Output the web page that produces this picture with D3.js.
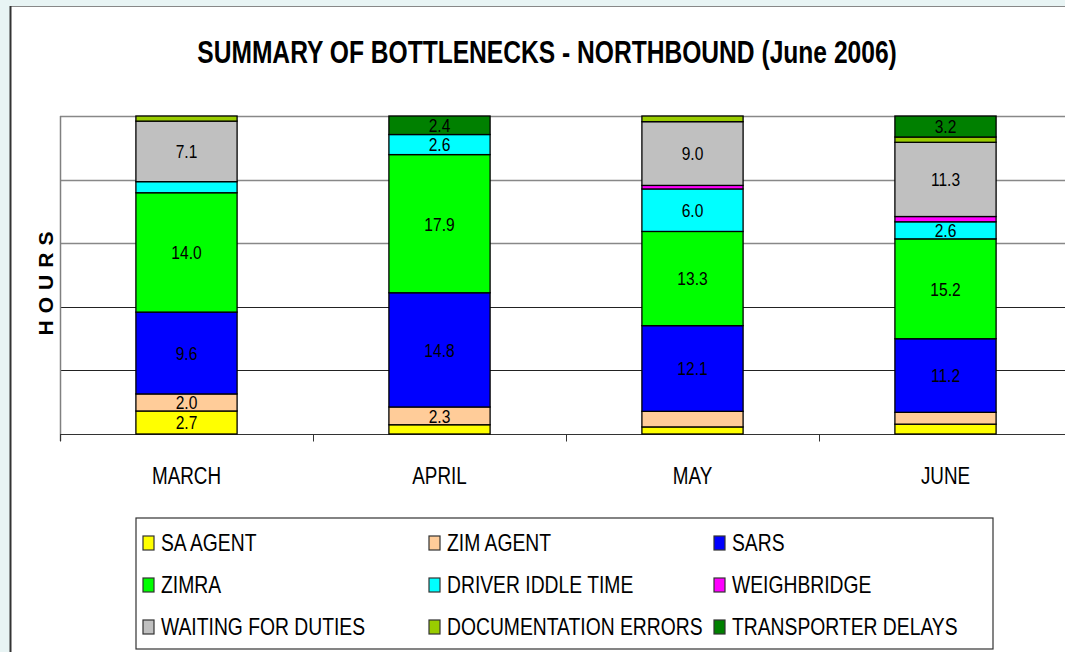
<!DOCTYPE html>
<html>
<head>
<meta charset="utf-8">
<script src="https://cdn.jsdelivr.net/npm/d3@7"></script>
<style>
  html, body { margin: 0; padding: 0; background: #e8f4f4; }
  svg { display: block; }
  text { font-family: "Liberation Sans", Arial, sans-serif; }
</style>
</head>
<body>
<svg id="chart" width="1065" height="652"></svg>
<script>
// ---- data ----
const months = ["MARCH", "APRIL", "MAY", "JUNE"];
const seriesNames = ["SA AGENT", "ZIM AGENT", "SARS", "ZIMRA", "DRIVER IDDLE TIME",
  "WEIGHBRIDGE", "WAITING FOR DUTIES", "DOCUMENTATION ERRORS", "TRANSPORTER DELAYS"];
const saAgent        = [2.7, 1.2, 1.0, 1.5];
const zimAgent       = [2.0, 2.3, 2.2, 1.8];
const sars           = [9.6, 14.8, 12.1, 11.2];
const zimra          = [14.0, 17.9, 13.3, 15.2];
const driverIdle     = [1.3, 2.6, 6.0, 2.6];
const weighbridge    = [0.0, 0.0, 0.5, 0.8];
const waitingDuties  = [7.1, 0.0, 9.0, 11.3];
const docErrors      = [0.6, 0.0, 0.8, 0.8];
const transporter    = [0.0, 2.4, 0.0, 3.2];
const yTicks = [0, 0.2, 0.4, 0.6, 0.8, 1.0];
const hiddenLabels = [["MAY", "ZIM AGENT"]];
const colors = ["#ffff00", "#ffcc99", "#0000ff", "#00ff00", "#00ffff",
  "#ff00ff", "#c0c0c0", "#99cc00", "#008000"];

const seriesValues = [saAgent, zimAgent, sars, zimra, driverIdle, weighbridge,
  waitingDuties, docErrors, transporter];

const table = months.map((m, i) => {
  const row = { month: m };
  seriesNames.forEach((s, j) => row[s] = seriesValues[j][i]);
  return row;
});

const svg = d3.select("#chart");
const NARROW = 0.84;

// narrow text helper: horizontally condensed text
function ntext(parent, x, y, str, size, anchor, opts = {}) {
  const g = parent.append("g").attr("transform", `translate(${x},${y}) scale(${opts.sx || NARROW},1)`);
  const t = g.append("text").attr("x", 0).attr("y", 0)
    .attr("text-anchor", anchor || "start").attr("font-size", size)
    .attr("dy", opts.dy || null)
    .attr("font-weight", opts.bold ? "bold" : null)
    .attr("fill", "#000").text(str);
  return { g, t };
}

// panel
svg.append("rect").attr("x", 10).attr("y", 6).attr("width", 1080).attr("height", 680)
  .attr("fill", "#ffffff");
svg.append("line").attr("x1", 10).attr("x2", 1080).attr("y1", 6.5).attr("y2", 6.5)
  .attr("stroke", "#888").attr("stroke-width", 1);
svg.append("line").attr("x1", 10.5).attr("x2", 10.5).attr("y1", 6).attr("y2", 660)
  .attr("stroke", "#333").attr("stroke-width", 2);

// title (condensed to match width)
{
  const { g, t } = ntext(svg, 547, 63, "SUMMARY OF BOTTLENECKS - NORTHBOUND (June 2006)", 31, "middle", { bold: true, sx: 1 });
  const w = t.node().getComputedTextLength();
  g.attr("transform", `translate(547,63) scale(${700 / w},1)`);
}

const plot = { left: 60, top: 116, right: 1072, bottom: 434 };

const x = d3.scaleBand().domain(months).range([plot.left, plot.right])
  .paddingInner(0.6).paddingOuter(0.3);
const xAxisScale = d3.scaleBand().domain(months).range([plot.left, plot.right]);
const y = d3.scaleLinear().domain([0, 1]).range([plot.bottom, plot.top]);

// gridlines
const grid = svg.append("g");
yTicks.slice(1).forEach(t => {
  grid.append("line").attr("x1", plot.left).attr("x2", 1065)
    .attr("y1", Math.round(y(t)) + 0.5).attr("y2", Math.round(y(t)) + 0.5)
    .attr("stroke", t >= 0.6 ? "#888888" : "#222222").attr("stroke-width", t >= 0.6 ? 1.6 : 1);
});

// y axis line
svg.append("line").attr("x1", plot.left + 0.5).attr("x2", plot.left + 0.5)
  .attr("y1", plot.top).attr("y2", plot.bottom + 7).attr("stroke", "#808080").attr("stroke-width", 1.5);

// x axis
const xAxis = svg.append("g").attr("transform", `translate(0,${plot.bottom + 0.5})`);
xAxis.append("line").attr("x1", plot.left).attr("x2", 1065).attr("y1", 0).attr("y2", 0)
  .attr("stroke", "#333").attr("stroke-width", 1.2);
months.forEach(m => {
  xAxis.append("line").attr("x1", Math.round(xAxisScale(m)) + 0.5).attr("x2", Math.round(xAxisScale(m)) + 0.5)
    .attr("y1", 0).attr("y2", 7).attr("stroke", "#333");
  ntext(xAxis, xAxisScale(m) + xAxisScale.bandwidth() / 2, 49, m, 23, "middle", { sx: 0.82 });
});

// stacks (100% stacked)
const stack = d3.stack().keys(seriesNames).offset(d3.stackOffsetExpand);
const layers = stack(table);

const gBars = svg.append("g");
layers.forEach((layer, li) => {
  layer.forEach((d, i) => {
    const v = d.data[seriesNames[li]];
    if (v <= 0) return;
    gBars.append("rect")
      .attr("x", x(months[i])).attr("width", x.bandwidth())
      .attr("y", y(d[1])).attr("height", y(d[0]) - y(d[1]))
      .attr("fill", colors[li]).attr("stroke", "#000").attr("stroke-width", 1.3);
  });
});
layers.forEach((layer, li) => {
  layer.forEach((d, i) => {
    const v = d.data[seriesNames[li]];
    const hidden = hiddenLabels.some(h => h[0] === months[i] && h[1] === seriesNames[li]);
    if (v < 2 || hidden) return;
    ntext(gBars, x(months[i]) + x.bandwidth() / 2, (y(d[0]) + y(d[1])) / 2,
      d3.format(".1f")(v), 19, "middle", { dy: "0.36em", sx: 0.82 });
  });
});

// y axis title
svg.append("text").attr("transform", "translate(53,280) rotate(-90)")
  .attr("text-anchor", "middle").attr("font-weight", "bold").attr("font-size", 21)
  .attr("letter-spacing", 7)
  .text("HOURS");

// legend
const lg = svg.append("g");
lg.append("rect").attr("x", 136).attr("y", 518).attr("width", 857).attr("height", 131)
  .attr("fill", "#fff").attr("stroke", "#333").attr("stroke-width", 1.2);
const colX = [143, 429, 714];
const rowY = [542, 584, 626];
seriesNames.forEach((s, i) => {
  const cx = colX[i % 3], cy = rowY[Math.floor(i / 3)];
  lg.append("rect").attr("x", cx).attr("y", cy - 6).attr("width", 11).attr("height", 14)
    .attr("fill", colors[i]).attr("stroke", "#333").attr("stroke-width", 1.2);
  ntext(lg, cx + 18, cy + 1, s, 23, "start", { dy: "0.36em" });
});
</script>
</body>
</html>
